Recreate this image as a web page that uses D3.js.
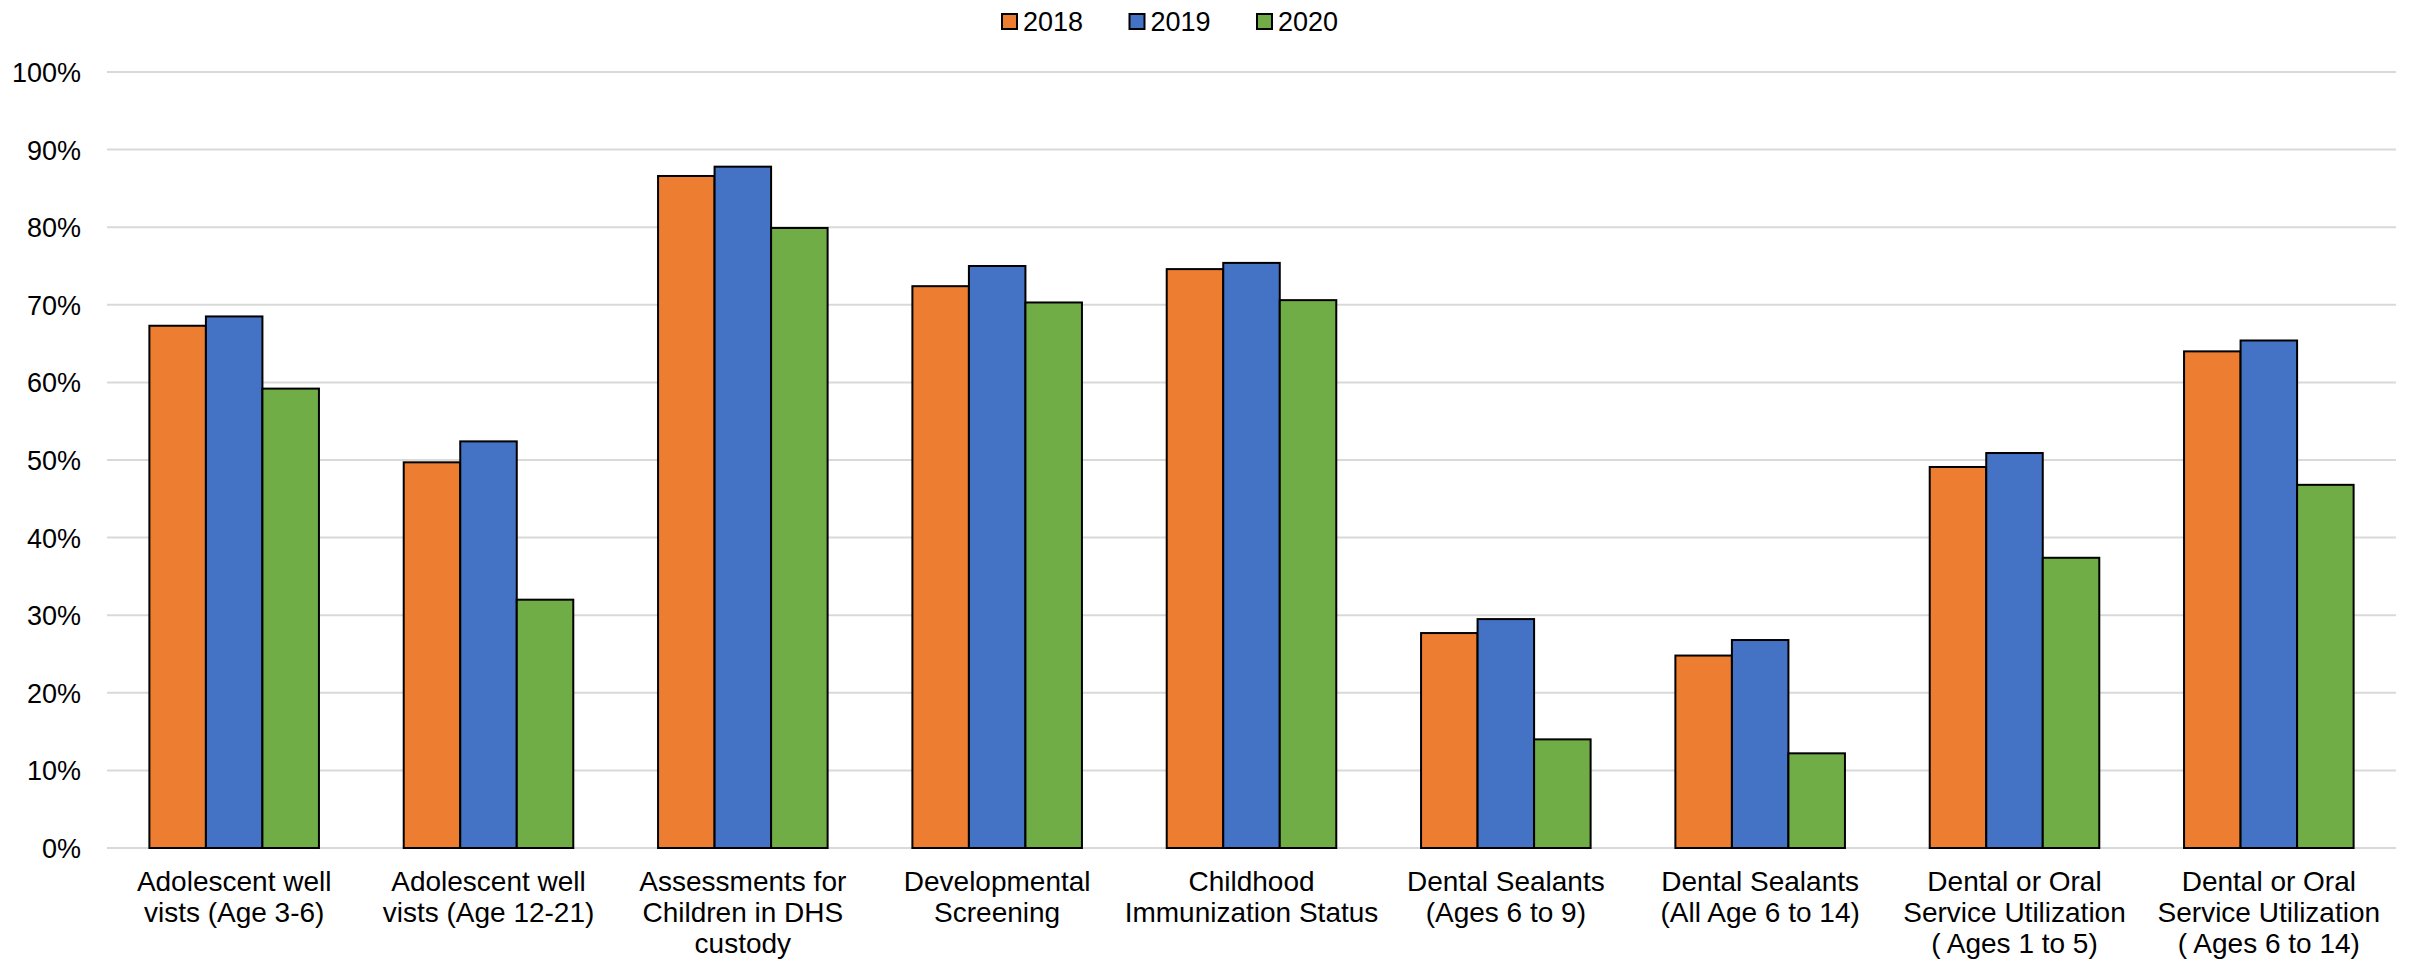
<!DOCTYPE html>
<html>
<head>
<meta charset="utf-8">
<script src="https://cdn.jsdelivr.net/npm/d3@7"></script>
<style>
  html, body { margin: 0; padding: 0; background: #fff; }
  svg { display: block; }
  text { font-family: "Liberation Sans", Arial, sans-serif; fill: #000; }
</style>
</head>
<body>
<svg id="chart" width="2412" height="963"></svg>
<script>
const categories = [
  "Adolescent well vists (Age 3-6)",
  "Adolescent well vists (Age 12-21)",
  "Assessments for Children in DHS custody",
  "Developmental Screening",
  "Childhood Immunization Status",
  "Dental Sealants (Ages 6 to 9)",
  "Dental Sealants (All Age 6 to 14)",
  "Dental or Oral Service Utilization ( Ages 1 to 5)",
  "Dental or Oral Service Utilization ( Ages 6 to 14)"
];
const categoryLines = [
  ["Adolescent well", "vists (Age 3-6)"],
  ["Adolescent well", "vists (Age 12-21)"],
  ["Assessments for", "Children in DHS", "custody"],
  ["Developmental", "Screening"],
  ["Childhood", "Immunization Status"],
  ["Dental Sealants", "(Ages 6 to 9)"],
  ["Dental Sealants", "(All Age 6 to 14)"],
  ["Dental or Oral", "Service Utilization", "( Ages 1 to 5)"],
  ["Dental or Oral", "Service Utilization", "( Ages 6 to 14)"]
];
const seriesNames = ["2018", "2019", "2020"];
const values2018 = [67.3, 49.7, 86.6, 72.4, 74.6, 27.7, 24.8, 49.1, 64.0];
const values2019 = [68.5, 52.4, 87.8, 75.0, 75.4, 29.5, 26.8, 50.9, 65.4];
const values2020 = [59.2, 32.0, 79.9, 70.3, 70.6, 14.0, 12.2, 37.4, 46.8];
const yTicks = [0, 10, 20, 30, 40, 50, 60, 70, 80, 90, 100];
const seriesColors = ["#ED7D31", "#4472C4", "#70AD47"];

const seriesValues = [values2018, values2019, values2020];

const svg = d3.select("#chart");
const plotLeft = 107, plotRight = 2396, plotTop = 72, plotBottom = 848;

const x0 = d3.scaleBand().domain(categories).range([plotLeft, plotRight]).padding(0);
const bw = x0.bandwidth();
const x1 = d3.scaleBand().domain(seriesNames).range([bw / 6, bw - bw / 6]).padding(0);
const y = d3.scaleLinear().domain([0, 100]).range([plotBottom, plotTop]);
const color = d3.scaleOrdinal().domain(seriesNames).range(seriesColors);

// gridlines
svg.append("g")
  .selectAll("line")
  .data(yTicks)
  .join("line")
  .attr("x1", plotLeft).attr("x2", plotRight)
  .attr("y1", d => y(d)).attr("y2", d => y(d))
  .attr("stroke", "#d9d9d9")
  .attr("stroke-width", 2);

// y axis labels
const yAxis = d3.axisLeft(y).tickValues(yTicks).tickFormat(d => d + "%").tickSize(0).tickPadding(26);
const yg = svg.append("g").attr("transform", `translate(${plotLeft},0)`).call(yAxis);
yg.select(".domain").remove();
yg.selectAll("text")
  .attr("font-size", 27)
  .attr("font-family", "'Liberation Sans', Arial, sans-serif")
  .attr("fill", "#000")
  .attr("dy", "0.35em");

// bars
const groups = svg.append("g")
  .selectAll("g")
  .data(categories)
  .join("g")
  .attr("transform", d => `translate(${x0(d)},0)`);

groups.selectAll("rect")
  .data((d, i) => seriesNames.map((s, k) => ({ s, v: seriesValues[k][i] })))
  .join("rect")
  .attr("x", d => x1(d.s))
  .attr("width", x1.bandwidth())
  .attr("y", d => y(d.v))
  .attr("height", d => y(0) - y(d.v))
  .attr("fill", d => color(d.s))
  .attr("stroke", "#000")
  .attr("stroke-width", 2);

// category labels
const xg = svg.append("g");
categories.forEach((c, i) => {
  const cx = x0(c) + bw / 2;
  const t = xg.append("text")
    .attr("x", cx)
    .attr("y", 891)
    .attr("text-anchor", "middle")
    .attr("font-size", 28);
  categoryLines[i].forEach((line, j) => {
    t.append("tspan").attr("x", cx).attr("dy", j === 0 ? 0 : 31).text(line);
  });
});

// legend
const legendStart = 1002;
const legendStep = 127.5;
const lg = svg.append("g");
seriesNames.forEach((s, k) => {
  const lx = legendStart + k * legendStep;
  lg.append("rect")
    .attr("x", lx).attr("y", 14)
    .attr("width", 15).attr("height", 15)
    .attr("fill", color(s))
    .attr("stroke", "#000").attr("stroke-width", 2);
  lg.append("text")
    .attr("x", lx + 21).attr("y", 31)
    .attr("font-size", 27)
    .text(s);
});
</script>
</body>
</html>
